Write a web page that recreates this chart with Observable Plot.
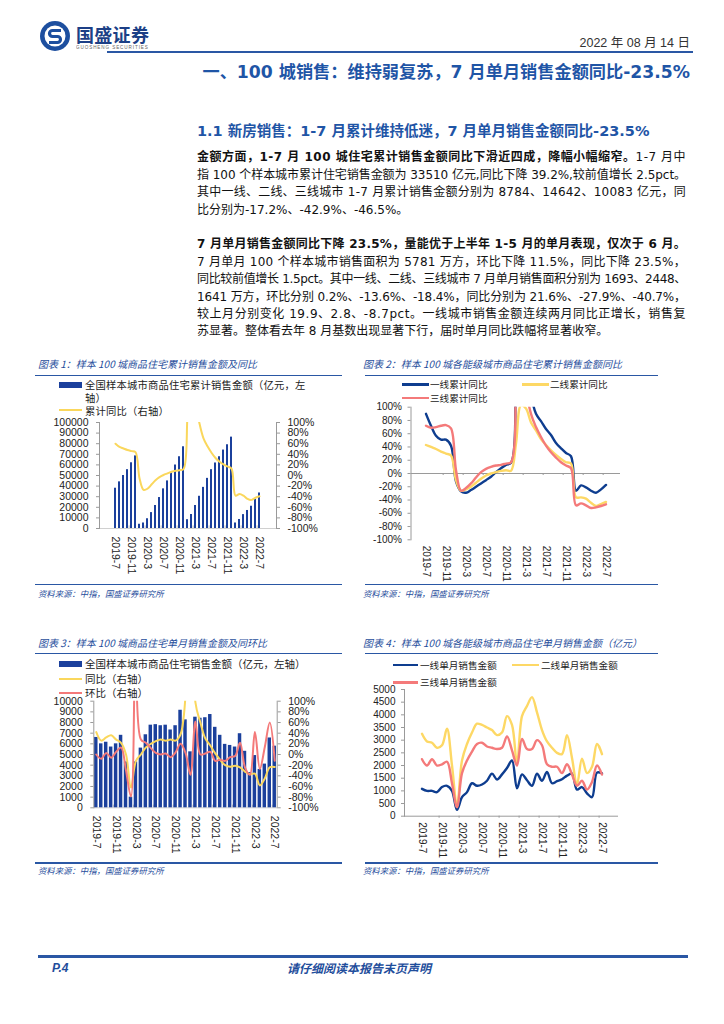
<!DOCTYPE html>
<html lang="zh-CN">
<head>
<meta charset="utf-8">
<script src="https://cdn.jsdelivr.net/npm/d3@7"></script>
<script src="https://cdn.jsdelivr.net/npm/@observablehq/plot@0.6"></script>
<style>
html,body{margin:0;padding:0;background:#fff;}
#page{position:relative;width:724px;height:1024px;overflow:hidden;background:#fff;font-family:"Noto Sans CJK SC","Noto Sans",sans-serif;color:#222;}
.a{position:absolute;white-space:nowrap;}
.hline{position:absolute;background:#2a57a4;}
.cap{position:absolute;font-size:10px;line-height:12px;font-style:italic;color:#1f4e9c;white-space:nowrap;}
.src{position:absolute;font-size:8.4px;line-height:11px;font-style:italic;color:#1f4e9c;white-space:nowrap;}
.body{position:absolute;left:197px;width:489px;font-family:"DejaVu Sans","Noto Sans CJK SC",sans-serif;font-size:12px;line-height:17.4px;color:#111;}
.body div{white-space:nowrap;}
.leg{position:absolute;font-size:10.5px;line-height:12px;color:#222;white-space:nowrap;}
.leg1{position:absolute;font-size:10.3px;line-height:12px;color:#222;white-space:nowrap;letter-spacing:0.2px;}
.leg2{position:absolute;font-size:9.6px;line-height:12px;color:#222;white-space:nowrap;}
.sw{position:absolute;}
.chart{position:absolute;}
</style>
</head>
<body>
<div id="page">
  <!-- header -->
  <svg class="a" style="left:39px;top:20px" width="32" height="32" viewBox="0 0 32 32">
    <circle cx="16" cy="16" r="15" fill="#1d4f9f"/>
    <circle cx="16" cy="16" r="10.5" fill="#fff"/>
    <path d="M22 10.5 H13.5 a3 3 0 0 0 0 6 h5 a3 3 0 0 1 0 6 H10" stroke="#1d4f9f" stroke-width="3.2" fill="none"/>
  </svg>
  <div class="a" style="left:76px;top:23px;font-size:18px;line-height:22px;font-weight:700;color:#1c3f86;letter-spacing:0.3px">国盛证券</div>
  <svg class="a" style="left:76px;top:44px" width="84" height="7"><text x="0" y="5" font-size="4.6" letter-spacing="0.9" fill="#666" font-family="Liberation Sans, Arial">GUOSHENG SECURITIES</text></svg>
  <div class="a" style="right:34px;top:35px;font-size:12.5px;line-height:16px;color:#333;font-family:'Liberation Sans','Noto Sans CJK SC',sans-serif">2022 年 08 月 14 日</div>
  <div class="hline" style="left:107px;top:51px;width:586px;height:2px;"></div>
  <div class="a" style="right:34px;top:61px;font-size:17.2px;line-height:22px;font-weight:700;color:#1f55a6;font-family:'DejaVu Sans','Noto Sans CJK SC',sans-serif">一、100 城销售：维持弱复苏，7 月单月销售金额同比-23.5%</div>

  <div class="a" style="left:197px;top:122px;font-size:14.5px;line-height:18px;font-weight:700;color:#1f55a6;font-family:'DejaVu Sans','Noto Sans CJK SC',sans-serif">1.1 新房销售：1-7 月累计维持低迷，7 月单月销售金额同比-23.5%</div>

  <div class="body" style="top:149.3px">
    <div class="jl"><span><b>金额方面，1-7 月 100 城住宅累计销售金额同比下滑近四成，降幅小幅缩窄。</b>1-7 月中</span></div>
    <div class="jl"><span>指 100 个样本城市累计住宅销售金额为 33510 亿元,同比下降 39.2%,较前值增长 2.5pct。</span></div>
    <div class="jl"><span>其中一线、二线、三线城市 1-7 月累计销售金额分别为 8784、14642、10083 亿元，同</span></div>
    <div><span>比分别为-17.2%、-42.9%、-46.5%。</span></div>
  </div>
  <div class="body" style="top:236.3px">
    <div class="jl"><span><b>7 月单月销售金额同比下降 23.5%，量能优于上半年 1-5 月的单月表现，仅次于 6 月。</b></span></div>
    <div class="jl"><span>7 月单月 100 个样本城市销售面积为 5781 万方，环比下降 11.5%，同比下降 23.5%，</span></div>
    <div class="jl"><span>同比较前值增长 1.5pct。其中一线、二线、三线城市 7 月单月销售面积分别为 1693、2448、</span></div>
    <div class="jl"><span>1641 万方，环比分别 0.2%、-13.6%、-18.4%，同比分别为 21.6%、-27.9%、-40.7%，</span></div>
    <div class="jl"><span>较上月分别变化 19.9、2.8、-8.7pct。一线城市销售金额连续两月同比正增长，销售复</span></div>
    <div><span>苏显著。整体看去年 8 月基数出现显著下行，届时单月同比跌幅将显著收窄。</span></div>
  </div>

  <!-- chart 1 frame -->
  <div class="cap" style="left:38px;top:358px">图表 1：样本 100 城商品住宅累计销售金额及同比</div>
  <div class="hline" style="left:35px;top:374.5px;width:307px;height:1.5px;"></div>
  <div class="sw" style="left:59px;top:381.5px;width:23px;height:6px;background:#1b409c"></div>
  <div class="leg1" style="left:85px;top:378.5px">全国样本城市商品住宅累计销售金额（亿元，左</div>
  <div class="leg1" style="left:85px;top:391.5px">轴）</div>
  <div class="sw" style="left:59px;top:408.8px;width:23px;height:2.5px;background:#fad75c"></div>
  <div class="leg1" style="left:85px;top:404.5px">累计同比（右轴）</div>
  <div class="hline" style="left:35px;top:583.5px;width:307px;height:1.5px;"></div>
  <div class="src" style="left:38px;top:588px">资料来源：中指，国盛证券研究所</div>

  <!-- chart 2 frame -->
  <div class="cap" style="left:363px;top:358px">图表 2：样本 100 城各能级城市商品住宅累计销售金额同比</div>
  <div class="hline" style="left:365px;top:374.5px;width:293px;height:1.5px;"></div>
  <div class="sw" style="left:402px;top:383px;width:27px;height:2.5px;background:#0e3d8f"></div>
  <div class="leg2" style="left:430px;top:378.3px">一线累计同比</div>
  <div class="sw" style="left:522px;top:383px;width:27px;height:2.5px;background:#fdd865"></div>
  <div class="leg2" style="left:550px;top:378.3px">二线累计同比</div>
  <div class="sw" style="left:402px;top:396.5px;width:27px;height:2.5px;background:#f47a7a"></div>
  <div class="leg2" style="left:430px;top:391.7px">三线累计同比</div>
  <div class="hline" style="left:365px;top:583.5px;width:293px;height:1.5px;"></div>
  <div class="src" style="left:363px;top:588px">资料来源：中指，国盛证券研究所</div>

  <!-- chart 3 frame -->
  <div class="cap" style="left:38px;top:637px">图表 3：样本 100 城商品住宅单月销售金额及同环比</div>
  <div class="hline" style="left:35px;top:652.5px;width:307px;height:1.5px;"></div>
  <div class="sw" style="left:59px;top:661.3px;width:23px;height:6px;background:#1b409c"></div>
  <div class="leg" style="left:85px;top:658.3px">全国样本城市商品住宅销售金额（亿元，左轴）</div>
  <div class="sw" style="left:59px;top:677.8px;width:23px;height:2.5px;background:#fad75c"></div>
  <div class="leg" style="left:85px;top:673px">同比（右轴）</div>
  <div class="sw" style="left:59px;top:691.8px;width:23px;height:2.5px;background:#f47a7a"></div>
  <div class="leg" style="left:85px;top:687px">环比（右轴）</div>
  <div class="hline" style="left:35px;top:862px;width:307px;height:1.5px;"></div>
  <div class="src" style="left:38px;top:865px">资料来源：中指，国盛证券研究所</div>

  <!-- chart 4 frame -->
  <div class="cap" style="left:363px;top:637px">图表 4：样本 100 城各能级城市商品住宅单月销售金额（亿元）</div>
  <div class="hline" style="left:365px;top:652.5px;width:293px;height:1.5px;"></div>
  <div class="sw" style="left:393px;top:663.8px;width:25px;height:2.5px;background:#0e3d8f"></div>
  <div class="leg2" style="left:420px;top:659px">一线单月销售金额</div>
  <div class="sw" style="left:512px;top:663.8px;width:27px;height:2.5px;background:#fdd865"></div>
  <div class="leg2" style="left:541px;top:659px">二线单月销售金额</div>
  <div class="sw" style="left:393px;top:681px;width:25px;height:2.5px;background:#f47a7a"></div>
  <div class="leg2" style="left:420px;top:676.3px">三线单月销售金额</div>
  <div class="hline" style="left:365px;top:862px;width:293px;height:1.5px;"></div>
  <div class="src" style="left:363px;top:865px">资料来源：中指，国盛证券研究所</div>

  <!-- footer -->
  <div class="hline" style="left:38px;top:955px;width:650px;height:2.5px;"></div>
  <div class="a" style="left:52px;top:961px;font-size:12px;line-height:14px;font-weight:700;font-style:italic;color:#1f4e9c;font-family:'Liberation Sans',Arial,sans-serif">P.4</div>
  <div class="a" style="left:287px;top:961px;font-size:12px;line-height:14px;font-weight:700;font-style:italic;color:#1f4e9c">请仔细阅读本报告末页声明</div>
</div>

<script>
// ---------- data ----------
const months = ["2019-7","2019-8","2019-9","2019-10","2019-11","2019-12",
  "2020-1","2020-2","2020-3","2020-4","2020-5","2020-6","2020-7","2020-8","2020-9","2020-10","2020-11","2020-12",
  "2021-1","2021-2","2021-3","2021-4","2021-5","2021-6","2021-7","2021-8","2021-9","2021-10","2021-11","2021-12",
  "2022-1","2022-2","2022-3","2022-4","2022-5","2022-6","2022-7"];
const tickMonths = ["2019-7","2019-11","2020-3","2020-7","2020-11","2021-3","2021-7","2021-11","2022-3","2022-7"];

// chart 1: cumulative amount (亿元) and cumulative YoY (%)
const cumAmount = [38000,44000,50000,55500,62000,68500,
  4000,5200,9200,15000,21700,29200,37400,44900,52400,59900,67700,77100,
  8300,13200,21700,30400,38800,47300,55500,61800,67700,74000,79000,86200,
  5200,8500,13100,17000,21000,27500,33510];
const cumYoY = [60,54,51,48,46,44,
  -5,-27,-25,-17,-9,-3,1,4,7,9,10,12,
  115,250,140,98,70,55,43,33,26,21,17,13,
  -38,-35,-38,-44,-46,-42,-39.2];

// chart 2: cumulative YoY by tier (%)
const tier1CumYoY = [90,72,57,51,51,42,-12,-27,-29,-25,-20,-15,-10,-5,2,8,13,16,
  200,320,200,120,90,79,67,58,46,38,31,26,-26,-18,-21,-26,-29,-24,-17.2];
const tier2CumYoY = [43,40,37,33,30,27,-10,-26,-24,-20,-14,-8,-3,0,2,4,5,4,
  45,103,98,77,65,52,43,35,28,22,17,15,-36,-36,-38,-44,-49,-46,-42.9];
const tier3CumYoY = [72,69,70,72,73,68,5,-26,-22,-15,-6,2,7,10,12,13,15,17,
  220,330,130,90,70,55,42,32,24,17,12,8,-48,-45,-48,-52,-51,-49,-46.5];

// chart 3: monthly amount (亿元), YoY (%), MoM (%)
const monthlyAmount = [6600,6000,6150,5700,6000,6800,
  4300,1000,4300,5600,6850,7750,7800,7700,7750,7300,7700,9150,
  8250,5250,8500,8400,8450,8750,7550,6800,5950,5850,5700,6950,
  5300,3300,4900,3600,4100,6550,5780];
const monthlyYoY = [42,26,32,36,28,22,0,-62,-12,0,13,20,25,28,26,28,26,38,
  110,425,98,60,30,17,2,-10,-20,-23,-21,-24,-32,-37,-36,-58,-45,-24,-23.5];
const monthlyMoM = [0,-8,3,-6,5,13,-30,-79,330,28,22,12,3,0,2,-5,4,20,
  3,-38,62,0,2,5,-12,-10,-12,-5,-3,22,-24,-38,42,-27,14,60,-11.5];

// chart 4: monthly amount by tier (亿元)
const tier1Monthly = [1080,1000,1000,950,1150,1200,1000,250,750,950,1300,1200,1250,1400,1680,1450,1650,1900,
  2200,1100,1650,1420,1200,1680,1400,1750,1300,1380,1460,1600,1680,1050,1150,900,750,1720,1693];
const tier2Monthly = [3250,2950,2900,2700,2800,3450,2000,400,2200,2850,3300,3650,3600,3500,3400,3200,3300,3950,
  3600,2100,3950,4350,4700,4100,3400,2950,2700,2500,2450,3200,2300,1250,2270,1700,1950,2850,2448];
const tier3Monthly = [2250,2000,2250,2000,2050,2150,1300,350,1700,2200,2550,2850,2900,2750,2700,2650,2700,3150,
  2600,2000,3050,2650,2650,3000,2800,2050,1950,1950,1700,2050,1650,1200,1400,1050,1350,2000,1641];

const pctTicks = d3.range(-100, 101, 20);

// ---------- helpers ----------
const axisFont = "'Liberation Sans', Arial, sans-serif";
const page = document.getElementById("page");
function place(el, left, top) {
  const d = document.createElement("div");
  d.className = "chart";
  d.style.left = left + "px";
  d.style.top = top + "px";
  d.appendChild(el);
  page.appendChild(d);
}
const BLUE = "#0e3d8f", YEL = "#fdd865", RED = "#f47a7a", BAR = "#1b409c", YEL1 = "#fad75c", AX = "#9a9a9a";

// ---------- chart 1 ----------
{
  const W = 320, H = 175, L = 20, T = 412;
  const ml = 99 - L, mr = W - (276 - L), mt = 422 - T, mb = H - (528 - T);
  const step = (W - ml - mr) / months.length;
  const rows = months.map((m, i) => ({m, amt: cumAmount[i], yoy: cumYoY[i]}));
  const toL = p => (p + 100) * 500;
  const svg = Plot.plot({
    width: W, height: H, marginLeft: ml, marginRight: mr, marginTop: mt, marginBottom: mb,
    style: {fontFamily: axisFont, fontSize: "10.5px", color: "#222", background: "transparent", overflow: "visible"},
    x: {type: "band", domain: months, paddingInner: 0.42, paddingOuter: 0.21},
    y: {domain: [0, 100000]},
    marks: [
      Plot.ruleY([0], {stroke: "#d0d0d0"}),
      Plot.ruleX(tickMonths.slice(1), {x: d => d, y1: 0, y2: 2500, dx: -step / 2, stroke: "#c0c0c0"}),
      Plot.barY(rows, {x: "m", y: "amt", fill: BAR}),
      Plot.line(rows, {x: "m", y: d => toL(d.yoy), stroke: YEL1, strokeWidth: 2, curve: "catmull-rom", clip: true}),
      Plot.frame({anchor: "left", stroke: AX}),
      Plot.frame({anchor: "right", stroke: AX}),
      Plot.axisY({ticks: d3.range(0, 100001, 10000), tickFormat: d => String(d), tickSize: 3, tickPadding: 8, stroke: AX, label: null}),
      Plot.axisY({anchor: "right", ticks: pctTicks.map(toL), tickFormat: d => Math.round(d / 500 - 100) + "%", tickSize: 3, tickPadding: 8, stroke: AX, label: null}),
      Plot.axisX({ticks: tickMonths, tickRotate: 90, tickSize: 0, tickPadding: 8, label: null})
    ]
  });
  place(svg, L, T);
}

// ---------- chart 2 ----------
{
  const W = 280, H = 190, L = 355, T = 400;
  const ml = 410.5 - L, mr = W - (620 - L), mt = 406.7 - T, mb = H - (539.3 - T);
  const step = (W - ml - mr) / months.length;
  const rows = months.map((m, i) => ({m, t1: tier1CumYoY[i], t2: tier2CumYoY[i], t3: tier3CumYoY[i]}));
  const svg = Plot.plot({
    width: W, height: H, marginLeft: ml, marginRight: mr, marginTop: mt, marginBottom: mb,
    style: {fontFamily: axisFont, fontSize: "10px", color: "#222", background: "transparent", overflow: "visible"},
    x: {type: "band", domain: months, padding: 0},
    y: {domain: [-100, 100]},
    marks: [
      Plot.ruleY([0], {stroke: AX}),
      Plot.ruleX(tickMonths.slice(1), {x: d => d, y1: 0, y2: -3, dx: -step / 2, stroke: AX}),
      Plot.line(rows, {x: "m", y: "t1", stroke: BLUE, strokeWidth: 2.4, curve: "catmull-rom", clip: true}),
      Plot.line(rows, {x: "m", y: "t2", stroke: YEL, strokeWidth: 2.4, curve: "catmull-rom", clip: true}),
      Plot.line(rows, {x: "m", y: "t3", stroke: RED, strokeWidth: 2.4, curve: "catmull-rom", clip: true}),
      Plot.frame({anchor: "left", stroke: AX}),
      Plot.axisY({ticks: pctTicks, tickFormat: d => d + "%", tickSize: 3, tickPadding: 6, stroke: AX, label: null}),
      Plot.axisX({ticks: tickMonths, tickRotate: 90, tickSize: 0, tickPadding: 6, label: null})
    ]
  });
  place(svg, L, T);
}

// ---------- chart 3 ----------
{
  const W = 320, H = 170, L = 20, T = 690;
  const ml = 93.3 - L, mr = W - (276.7 - L), mt = 700.7 - T, mb = H - (807.3 - T);
  const step = (W - ml - mr) / months.length;
  const rows = months.map((m, i) => ({m, amt: monthlyAmount[i], yoy: monthlyYoY[i], mom: monthlyMoM[i]}));
  const toL = p => (p + 100) * 50;
  const svg = Plot.plot({
    width: W, height: H, marginLeft: ml, marginRight: mr, marginTop: mt, marginBottom: mb,
    style: {fontFamily: axisFont, fontSize: "10.5px", color: "#222", background: "transparent", overflow: "visible"},
    x: {type: "band", domain: months, paddingInner: 0.3, paddingOuter: 0.15},
    y: {domain: [0, 10000]},
    marks: [
      Plot.ruleY([0], {stroke: "#d0d0d0"}),
      Plot.ruleX(tickMonths.slice(1), {x: d => d, y1: 0, y2: 250, dx: -step / 2, stroke: "#c0c0c0"}),
      Plot.barY(rows, {x: "m", y: "amt", fill: BAR}),
      Plot.line(rows, {x: "m", y: d => toL(d.yoy), stroke: YEL1, strokeWidth: 2, curve: "catmull-rom", clip: true}),
      Plot.line(rows, {x: "m", y: d => toL(d.mom), stroke: RED, strokeWidth: 2, curve: "catmull-rom", clip: true}),
      Plot.frame({anchor: "left", stroke: AX}),
      Plot.frame({anchor: "right", stroke: AX}),
      Plot.axisY({ticks: d3.range(0, 10001, 1000), tickFormat: d => String(d), tickSize: 3, tickPadding: 8, stroke: AX, label: null}),
      Plot.axisY({anchor: "right", ticks: pctTicks.map(toL), tickFormat: d => Math.round(d / 50 - 100) + "%", tickSize: 3, tickPadding: 8, stroke: AX, label: null}),
      Plot.axisX({ticks: tickMonths, tickRotate: 90, tickSize: 0, tickPadding: 8, label: null})
    ]
  });
  place(svg, L, T);
}

// ---------- chart 4 ----------
{
  const W = 280, H = 185, L = 355, T = 682;
  const ml = 404 - L, mr = W - (618 - L), mt = 689 - T, mb = H - (815.7 - T);
  const step = (W - ml - mr) / months.length;
  const rows = months.map((m, i) => ({m, t1: tier1Monthly[i], t2: tier2Monthly[i], t3: tier3Monthly[i]}));
  const svg = Plot.plot({
    width: W, height: H, marginLeft: ml, marginRight: mr, marginTop: mt, marginBottom: mb,
    style: {fontFamily: axisFont, fontSize: "10px", color: "#222", background: "transparent", overflow: "visible"},
    x: {type: "band", domain: months, padding: 0},
    y: {domain: [0, 5000]},
    marks: [
      Plot.ruleY([0], {stroke: AX}),
      Plot.ruleX(tickMonths.slice(1), {x: d => d, y1: 0, y2: -80, dx: -step / 2, stroke: AX}),
      Plot.line(rows, {x: "m", y: "t1", stroke: BLUE, strokeWidth: 2.4, curve: "catmull-rom"}),
      Plot.line(rows, {x: "m", y: "t2", stroke: YEL, strokeWidth: 2.4, curve: "catmull-rom"}),
      Plot.line(rows, {x: "m", y: "t3", stroke: RED, strokeWidth: 2.4, curve: "catmull-rom"}),
      Plot.frame({anchor: "left", stroke: AX}),
      Plot.axisY({ticks: d3.range(0, 5001, 500), tickFormat: d => String(d), tickSize: 3, tickPadding: 6, stroke: AX, label: null}),
      Plot.axisX({ticks: tickMonths, tickRotate: 90, tickSize: 0, tickPadding: 6, label: null})
    ]
  });
  place(svg, L, T);
}

// ---------- justify body lines ----------
function fitLines() {
  document.querySelectorAll(".jl").forEach(div => {
    const span = div.firstElementChild;
    span.style.letterSpacing = "0px";
    const w = span.getBoundingClientRect().width;
    const n = [...span.textContent].length;
    span.style.letterSpacing = ((489 - w) / n) + "px";
  });
}
fitLines();
if (document.fonts && document.fonts.ready) document.fonts.ready.then(fitLines);
</script>
</body>
</html>
